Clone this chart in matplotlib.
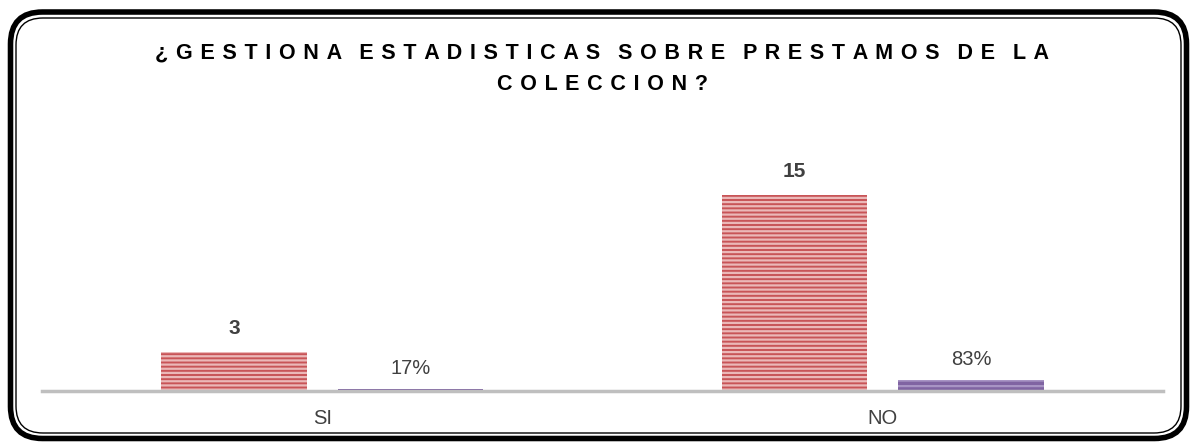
import numpy as np
import matplotlib
matplotlib.use('Agg')
from matplotlib import pyplot as plt
from matplotlib.patches import FancyBboxPatch

# data
categories = ['SI', 'NO']
counts = [3, 15]
shares = [0.17, 0.83]
share_labels = ['17%', '83%']
title_lines = ['¿GESTIONA ESTADISTICAS SOBRE PRESTAMOS DE LA', 'COLECCION?']

plt.rcParams['font.family'] = ['Liberation Sans', 'DejaVu Sans']
plt.rcParams['hatch.linewidth'] = 1.6

W, H = 11.97, 4.44
fig = plt.figure(figsize=(W, H), dpi=100)

# rounded double frame (coords in inches)
tr = fig.dpi_scale_trans
outer = FancyBboxPatch((0.105, 0.055), W - 0.21, H - 0.175, boxstyle='round,pad=0,rounding_size=0.32',
                       transform=tr, facecolor='white', edgecolor='black', linewidth=4.0, zorder=-2)
inner = FancyBboxPatch((0.16, 0.11), W - 0.32, H - 0.29, boxstyle='round,pad=0,rounding_size=0.27',
                       transform=tr, facecolor='none', edgecolor='black', linewidth=1.0, zorder=-1)
fig.patches.extend([outer, inner])

ax = fig.add_axes([42/1197, 1 - 391/444, (1163 - 42)/1197, 261/444])
ax.set_facecolor('none')
ax.set_zorder(2)

x = np.arange(len(categories))
w = 0.26
gap = 0.055
red = ax.bar(x - w/2 - gap/2, counts, w, color='#C85457', edgecolor='#EBB8B8',
             hatch='----', linewidth=0)
purple = ax.bar(x + w/2 + gap/2, shares, w, color='#8064A2', edgecolor='#A894C4',
                hatch='---', linewidth=0)

for rect, v in zip(red, counts):
    ax.annotate(str(v), (rect.get_x() + rect.get_width()/2, rect.get_height()),
                xytext=(0, 10), textcoords='offset points', ha='center', va='bottom',
                fontsize=15, fontweight='bold', color='#404040')
for rect, lab in zip(purple, share_labels):
    ax.annotate(lab, (rect.get_x() + rect.get_width()/2, rect.get_height()),
                xytext=(0, 8), textcoords='offset points', ha='center', va='bottom',
                fontsize=14.5, color='#404040')

ax.set_xlim(-0.5, len(categories) - 0.5)
ax.set_ylim(0, 20)
ax.set_xticks(x)
ax.set_xticklabels(categories, fontsize=14.5, color='#404040')
ax.tick_params(axis='x', length=0, pad=13)
ax.set_yticks([])
for s in ['top', 'right', 'left']:
    ax.spines[s].set_visible(False)
ax.spines['bottom'].set_color('#BFBFBF')
ax.spines['bottom'].set_linewidth(2.5)

# spaced-out title
def spaced(s):
    return '   '.join(' \u200a'.join(word) for word in s.split(' '))

fig.text(0.503, 1 - 53/444, spaced(title_lines[0]), ha='center', va='center',
         fontsize=15.5, fontweight='bold', color='black')
fig.text(0.503, 1 - 85/444, spaced(title_lines[1]), ha='center', va='center',
         fontsize=15.5, fontweight='bold', color='black')

fig.savefig('out.png', dpi=100)
